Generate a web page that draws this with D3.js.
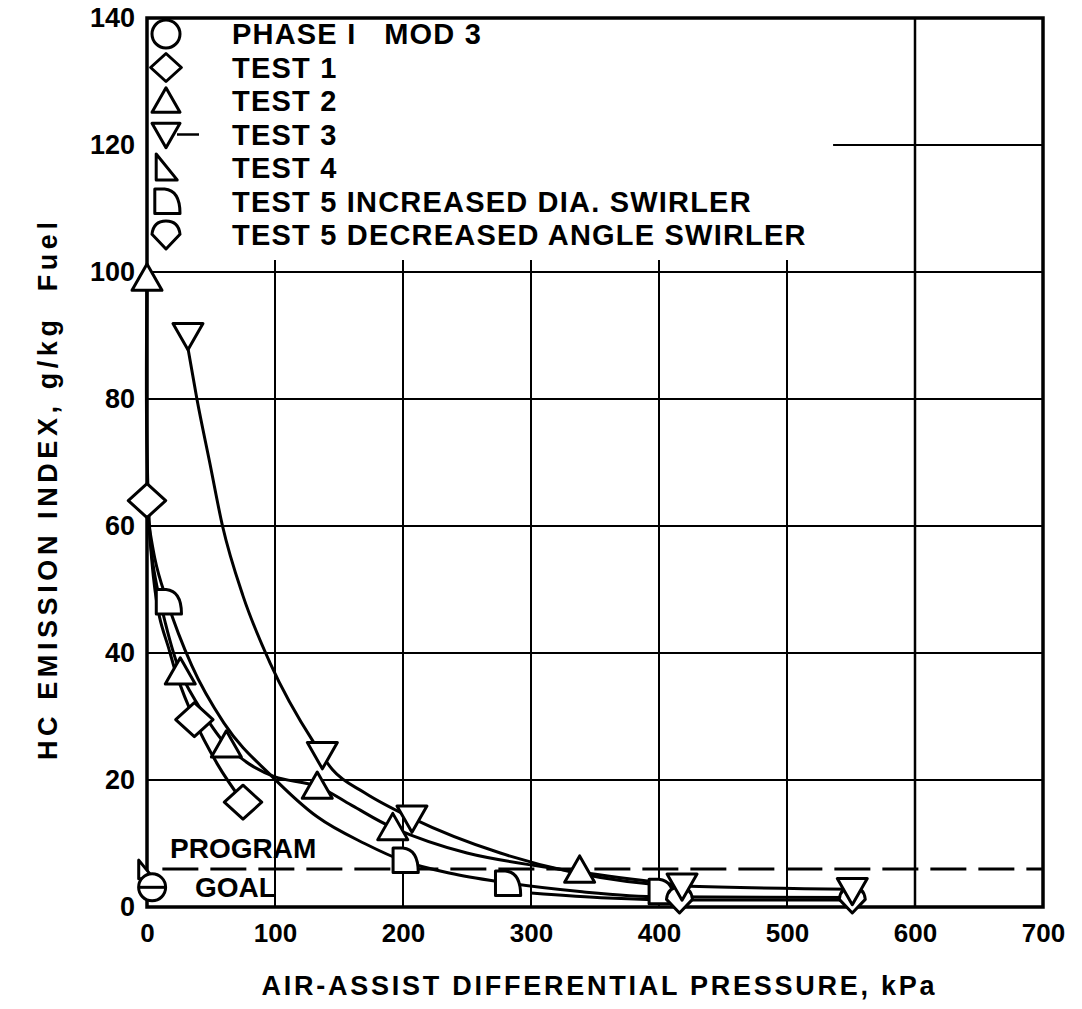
<!DOCTYPE html>
<html>
<head>
<meta charset="utf-8">
<script src="https://cdn.jsdelivr.net/npm/d3@7/dist/d3.min.js"></script>
<style>
  html, body { margin: 0; padding: 0; background: #fff; }
  svg text { font-family: "Liberation Sans", Arial, Helvetica, sans-serif; font-weight: bold; fill: #000; white-space: pre; }
</style>
</head>
<body>
<svg id="chart" width="1082" height="1009"></svg>
<script>
// ---------------- DATA ----------------
const xTicks = [0, 100, 200, 300, 400, 500, 600, 700];
const yTicks = [0, 20, 40, 60, 80, 100, 120, 140];
const xTitle = "AIR-ASSIST DIFFERENTIAL PRESSURE, kPa";
const yTitle = "HC EMISSION INDEX, g/kg  Fuel";
const goalValue = 6;

const legendNames = [
  "PHASE I   MOD 3",
  "TEST 1",
  "TEST 2",
  "TEST 3",
  "TEST 4",
  "TEST 5 INCREASED DIA. SWIRLER",
  "TEST 5 DECREASED ANGLE SWIRLER"
];
const legendShapes = ["circle", "diamond", "triangle", "triangleDown", "rightTri", "dShape", "roundDiamond"];

// marker points [kPa, g/kg]
const phase1Points = [[4, 3.1]];
const test1Points = [[0, 64], [37, 29.5], [75, 16.5]];
const test2Points = [[0, 99], [26, 37], [62, 25.5], [133, 19], [192, 12.5], [338, 5.8]];
const test3Points = [[32, 90], [137, 24], [207, 14], [418, 3.3], [551, 2.6]];
const test4Points = [[-1, 5.8]];
const test5IncPoints = [[16, 48], [201, 7.3], [281, 3.7], [401, 2.4]];
const test5DecPoints = [[416, 1.1], [551, 1.1]];

// faired curves
const test1Curve = [[0, 64], [5, 52], [18, 40], [37, 29.5], [55, 22.5], [75, 16.5]];
const test2Curve = [[0, 99], [0, 72], [4, 55], [14, 45], [26, 37], [44, 30.5], [62, 25.5], [80, 22.5], [100, 20.5], [133, 19], [160, 16], [192, 12.5], [250, 8.5], [338, 5.5], [410, 3.6]];
const test3Curve = [[32, 88], [39, 80], [49, 70], [59, 60], [75, 49], [96, 38.5], [130, 26], [145, 21.6], [170, 18], [207, 14], [276, 8.5], [330, 5.6], [418, 3.3], [551, 2.8]];
const test5IncCurve = [[0, 62], [6, 55], [16, 48], [35, 38], [60, 29], [98, 20.5], [133, 14.2], [170, 10], [201, 7.2], [240, 5.2], [281, 3.8], [340, 2.4], [401, 1.6], [551, 1.5]];
const test5DecCurve = [[300, 2.2], [360, 1.4], [416, 1.1], [551, 1.1]];

// ---------------- CHART ----------------
const svg = d3.select("#chart");
const x = d3.scaleLinear().domain([0, 700]).range([147, 1043]);
const y = d3.scaleLinear().domain([0, 140]).range([907, 18]);

// grid
const g = svg.append("g");
[100, 200, 300, 400, 500].forEach(v => {
  g.append("line").attr("x1", x(v)).attr("x2", x(v)).attr("y1", y(100) - 12).attr("y2", y(0))
    .attr("stroke", "#000").attr("stroke-width", 2);
});
g.append("line").attr("x1", x(600)).attr("x2", x(600)).attr("y1", y(140)).attr("y2", y(0))
  .attr("stroke", "#000").attr("stroke-width", 2.5);
[20, 40, 60, 80, 100].forEach(v => {
  g.append("line").attr("x1", x(0)).attr("x2", x(700)).attr("y1", y(v)).attr("y2", y(v))
    .attr("stroke", "#000").attr("stroke-width", 2);
});
g.append("line").attr("x1", x(536)).attr("x2", x(700)).attr("y1", y(120)).attr("y2", y(120))
  .attr("stroke", "#000").attr("stroke-width", 2);

// frame
svg.append("rect").attr("x", x(0)).attr("y", y(140)).attr("width", x(700) - x(0)).attr("height", y(0) - y(140))
  .attr("fill", "none").attr("stroke", "#000").attr("stroke-width", 3.5);

// axes (labels via d3 axis)
const xAxis = d3.axisBottom(x).tickValues(xTicks).tickSize(0).tickPadding(17).tickFormat(d3.format("d"));
const xa = svg.append("g").attr("transform", `translate(0,${y(0)})`).call(xAxis);
xa.select(".domain").remove();
xa.selectAll("text").attr("font-size", 26).style("font-family", "Liberation Sans, Arial, sans-serif").style("font-weight", "bold");

const yAxis = d3.axisLeft(y).tickValues(yTicks).tickSize(0).tickPadding(12).tickFormat(d3.format("d"));
const ya = svg.append("g").attr("transform", `translate(${x(0)},0)`).call(yAxis);
ya.select(".domain").remove();
ya.selectAll("text").attr("font-size", 27).style("font-family", "Liberation Sans, Arial, sans-serif").style("font-weight", "bold");

// titles
svg.append("text").attr("x", 598).attr("y", 995).attr("text-anchor", "middle").attr("font-size", 27)
  .attr("textLength", 673).attr("lengthAdjust", "spacing").text(xTitle);
svg.append("text").attr("transform", "translate(57,491) rotate(-90)").attr("text-anchor", "middle").attr("font-size", 27)
  .attr("textLength", 538).attr("lengthAdjust", "spacing").text(yTitle);

// goal line
svg.append("line").attr("x1", x(12)).attr("x2", x(700)).attr("y1", y(goalValue)).attr("y2", y(goalValue))
  .attr("stroke", "#000").attr("stroke-width", 3).attr("stroke-dasharray", "36,12");
svg.append("text").attr("x", 170).attr("y", 858).attr("font-size", 28).text("PROGRAM");
svg.append("text").attr("x", 195).attr("y", 897).attr("font-size", 28).text("GOAL");

// curves
const lineCR = d3.line().x(d => x(d[0])).y(d => y(d[1])).curve(d3.curveCatmullRom.alpha(0.5));
const lineM = d3.line().x(d => x(d[0])).y(d => y(d[1])).curve(d3.curveMonotoneX);
svg.append("path").attr("d", lineCR(test2Curve)).attr("fill", "none").attr("stroke", "#000").attr("stroke-width", 3);
[test1Curve, test3Curve, test5IncCurve, test5DecCurve].forEach(c => {
  svg.append("path").attr("d", lineM(c)).attr("fill", "none").attr("stroke", "#000").attr("stroke-width", 3);
});

// marker shapes
function shapePath(type, s) {
  const r = s / 2;
  switch (type) {
    case "diamond": return `M0,${-r}L${r * 1.1},0L0,${r}L${-r * 1.1},0Z`;
    case "triangle": return `M0,${-r * 0.95}L${r},${r * 0.8}L${-r},${r * 0.8}Z`;
    case "triangleDown": return `M${-r},${-r * 0.8}L${r},${-r * 0.8}L0,${r * 0.95}Z`;
    case "rightTri": return `M${-r * 0.7},${-r}L${-r * 0.7},${r * 0.85}L${r * 0.8},${r * 0.85}Z`;
    case "dShape": return `M${-r * 0.8},${r * 0.85}L${-r * 0.8},${-r * 0.9}L${-r * 0.1},${-r * 0.9}Q${r},${-r * 0.8} ${r},${r * 0.85}Z`;
    case "roundDiamond": return `M0,${r}L${-r},${-r * 0.05}Q${-r * 0.9},${-r} 0,${-r}Q${r * 0.9},${-r} ${r},${-r * 0.05}Z`;
    default: return null;
  }
}
function drawMarker(sel, type, cx, cy, s) {
  if (type === "circle") {
    sel.append("circle").attr("cx", cx).attr("cy", cy).attr("r", s / 2)
      .attr("fill", "#fff").attr("stroke", "#000").attr("stroke-width", 3);
  } else {
    sel.append("path").attr("d", shapePath(type, s)).attr("transform", `translate(${cx},${cy})`)
      .attr("fill", "#fff").attr("stroke", "#000").attr("stroke-width", 3).attr("stroke-linejoin", "round");
  }
}

const mk = svg.append("g");
test4Points.forEach(p => drawMarker(mk, "rightTri", x(p[0]), y(p[1]), 20));
phase1Points.forEach(p => {
  drawMarker(mk, "circle", x(p[0]), y(p[1]), 27);
  mk.append("line").attr("x1", x(p[0]) - 14).attr("x2", x(p[0]) + 14).attr("y1", y(p[1])).attr("y2", y(p[1]))
    .attr("stroke", "#000").attr("stroke-width", 3);
});
test1Points.forEach(p => drawMarker(mk, "diamond", x(p[0]), y(p[1]), 34));
test2Points.forEach(p => drawMarker(mk, "triangle", x(p[0]), y(p[1]), 30));
test5IncPoints.forEach(p => drawMarker(mk, "dShape", x(p[0]), y(p[1]), 28));
test5DecPoints.forEach(p => drawMarker(mk, "roundDiamond", x(p[0]), y(p[1]), 26));
test3Points.forEach(p => drawMarker(mk, "triangleDown", x(p[0]), y(p[1]), 30));

// legend
const lg = svg.append("g");
legendNames.forEach((name, i) => {
  const cy = 34 + i * 33.5;
  drawMarker(lg, legendShapes[i], 166, cy, 28);
  if (legendShapes[i] === "triangleDown") {
    lg.append("line").attr("x1", 177).attr("x2", 199).attr("y1", cy).attr("y2", cy).attr("stroke", "#000").attr("stroke-width", 2.5);
  }
  lg.append("text").attr("x", 232).attr("y", cy + 10).attr("font-size", 29).attr("letter-spacing", 1.2).text(name);
});
</script>
</body>
</html>
